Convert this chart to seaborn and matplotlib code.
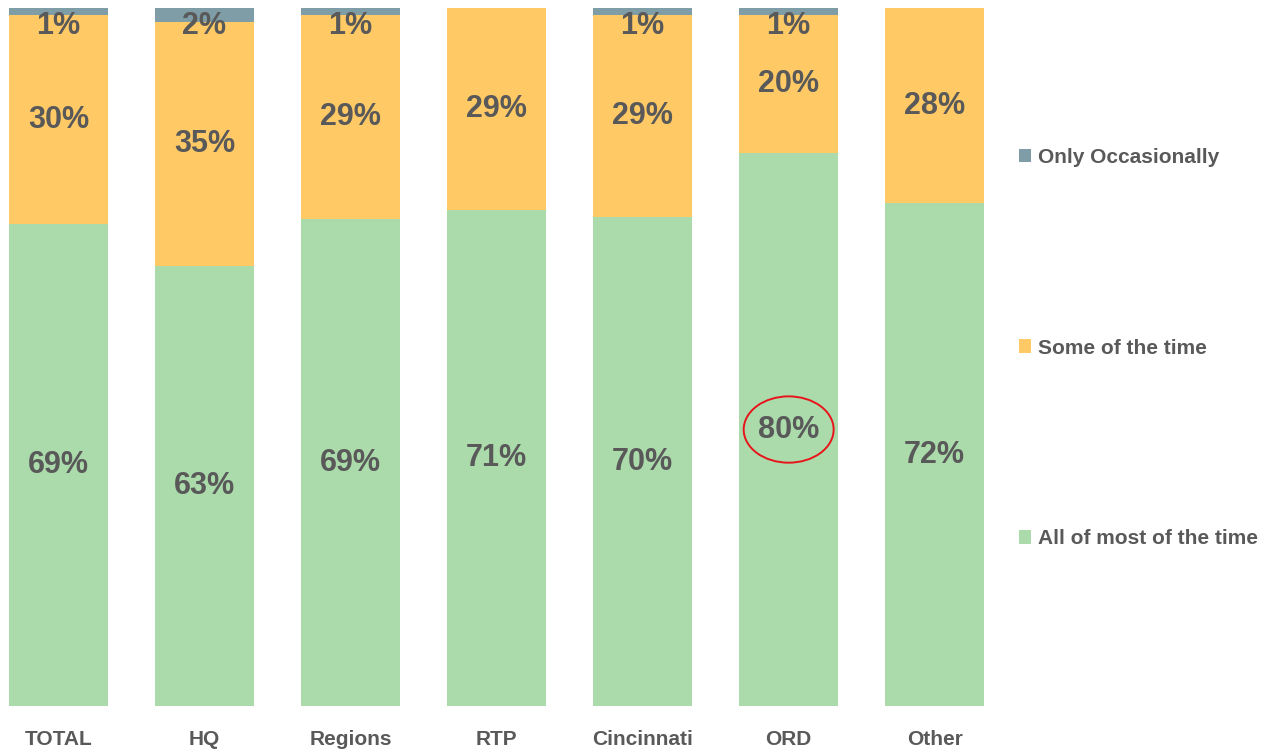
import seaborn as sns
import matplotlib.pyplot as plt
import pandas as pd
from matplotlib.patches import Ellipse

sites = ["TOTAL", "HQ", "Regions", "RTP", "Cincinnati", "ORD", "Other"]
all_most = [69, 63, 69, 71, 70, 80, 72]
some_time = [30, 35, 29, 29, 29, 20, 28]
occasionally = [1, 2, 1, 0, 1, 1, 0]

GREEN = "#ABDBAB"
YELLOW = "#FFC966"
GREY = "#7F9DA6"
TEXT = "#595959"


def main():
    df = pd.DataFrame({"site": sites, "all": all_most, "some": some_time, "occ": occasionally})
    total = df["all"] + df["some"] + df["occ"]
    # 100% stacked: shares of each bar
    df["s_all"] = df["all"] / total
    df["s_some"] = df["some"] / total
    df["s_occ"] = df["occ"] / total
    df["c1"] = df["s_all"]
    df["c2"] = df["s_all"] + df["s_some"]
    df["c3"] = df["c2"] + df["s_occ"]

    sns.set_style("white")
    plt.rcParams["font.family"] = ["Liberation Sans", "DejaVu Sans"]

    fig = plt.figure(figsize=(12.7, 7.5), dpi=100)
    ax = fig.add_axes([0.0, 0.0587, 0.782, 0.9307])

    w = 0.68
    sns.barplot(data=df, x="site", y="c3", color=GREY, width=w, saturation=1, linewidth=0, ax=ax, label="Only Occasionally")
    sns.barplot(data=df, x="site", y="c2", color=YELLOW, width=w, saturation=1, linewidth=0, ax=ax, label="Some of the time")
    sns.barplot(data=df, x="site", y="c1", color=GREEN, width=w, saturation=1, linewidth=0, ax=ax, label="All of most of the time")

    for i, row in df.iterrows():
        kw = dict(ha="center", color=TEXT, fontsize=22, fontweight="bold")
        ax.text(i, row["c1"] / 2, f"{row['all']}%", va="center", **kw)
        ax.text(i, row["c1"] + row["s_some"] / 2, f"{row['some']}%", va="center", **kw)
        if row["occ"] > 0:
            ax.annotate(f"{row['occ']}%", (i, row["c3"]), xytext=(0, -2), textcoords="offset points",
                        va="top", **kw)

    # red ring around the ORD figure
    k = sites.index("ORD")
    ax.add_patch(Ellipse((k, df.loc[k, "c1"] / 2), 0.616, 0.095, fill=False, edgecolor="#E8141B", linewidth=1.4))

    ax.set_xlim(-0.4, 6.4)
    ax.set_ylim(0, 1)
    ax.set_xlabel("")
    ax.set_ylabel("")
    ax.set_yticks([])
    ax.tick_params(axis="x", length=0, pad=17, labelsize=15, labelcolor=TEXT)
    for lab in ax.get_xticklabels():
        lab.set_fontweight("bold")
    sns.despine(ax=ax, left=True, bottom=True)

    h, l = ax.get_legend_handles_labels()
    if ax.legend_:
        ax.legend_.remove()
    fig.legend(h, l, loc="center left", bbox_to_anchor=(0.802, 0.536), frameon=False,
               prop={"size": 15, "weight": "bold"}, labelcolor=TEXT,
               handlelength=0.62, handleheight=0.62, handletextpad=0.3,
               labelspacing=8.25, borderpad=0, borderaxespad=0)

    plt.savefig("out.png", dpi=100)


if __name__ == "__main__":
    main()
